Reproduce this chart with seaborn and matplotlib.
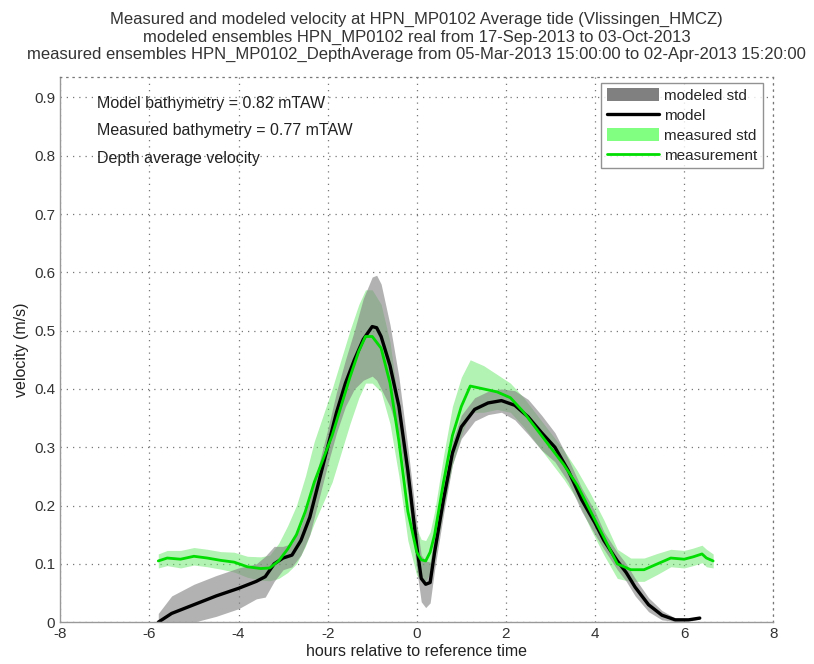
import numpy as np
import pandas as pd
import seaborn as sns
import matplotlib
matplotlib.use('Agg')
import matplotlib.pyplot as plt
from matplotlib.patches import Patch
from matplotlib.lines import Line2D

# model (black) and its std band
model_t = [-5.8, -5.5, -5.0, -4.5, -4.0, -3.6, -3.4, -3.2, -3.0, -2.8, -2.6, -2.4, -2.2, -2.0,
           -1.8, -1.6, -1.4, -1.2, -1.0, -0.9, -0.8, -0.6, -0.4, -0.2, 0.0, 0.1, 0.2, 0.3, 0.4,
           0.6, 0.8, 1.0, 1.3, 1.6, 1.9, 2.2, 2.5, 2.8, 3.1, 3.4, 3.7, 4.0, 4.2, 4.5, 4.7, 4.9,
           5.2, 5.5, 5.8, 6.1, 6.35]
model_v = [0.0, 0.015, 0.03, 0.045, 0.058, 0.07, 0.078, 0.10, 0.11, 0.115, 0.14, 0.18, 0.24, 0.30,
           0.36, 0.41, 0.45, 0.485, 0.507, 0.505, 0.49, 0.44, 0.37, 0.26, 0.13, 0.075, 0.065, 0.068, 0.12,
           0.21, 0.29, 0.335, 0.365, 0.376, 0.38, 0.372, 0.352, 0.325, 0.30, 0.26, 0.21, 0.17, 0.14, 0.105, 0.085, 0.06,
           0.03, 0.012, 0.004, 0.004, 0.007]
model_sd = [0.015, 0.03, 0.035, 0.035, 0.035, 0.03, 0.035, 0.03, 0.02, 0.02, 0.025, 0.03, 0.03, 0.03,
            0.035, 0.04, 0.05, 0.07, 0.085, 0.09, 0.09, 0.07, 0.05, 0.04, 0.04, 0.04, 0.04, 0.035, 0.03,
            0.025, 0.02, 0.02, 0.02, 0.02, 0.02, 0.025, 0.03, 0.03, 0.025, 0.02, 0.02, 0.02, 0.015, 0.015, 0.015, 0.015,
            0.012, 0.008, 0.003, 0.002, 0.002]

# measurement (green) and its std band
meas_t = [-5.8, -5.6, -5.3, -5.0, -4.7, -4.4, -4.1, -3.8, -3.5, -3.3, -3.1, -2.9, -2.7, -2.5, -2.3,
          -2.1, -1.9, -1.7, -1.5, -1.3, -1.15, -1.0, -0.8, -0.6, -0.4, -0.2, 0.0, 0.1, 0.2, 0.3, 0.4,
          0.6, 0.8, 1.0, 1.2, 1.5, 1.8, 2.1, 2.4, 2.7, 3.0, 3.3, 3.6, 3.9, 4.2, 4.5, 4.8, 5.1, 5.4,
          5.7, 6.0, 6.2, 6.4, 6.5, 6.65]
meas_v = [0.105, 0.11, 0.108, 0.113, 0.11, 0.106, 0.103, 0.095, 0.092, 0.093, 0.105, 0.125, 0.15, 0.19, 0.24,
          0.28, 0.32, 0.37, 0.42, 0.465, 0.49, 0.49, 0.47, 0.41, 0.31, 0.19, 0.12, 0.107, 0.105, 0.12, 0.15,
          0.24, 0.32, 0.37, 0.405, 0.40, 0.395, 0.385, 0.36, 0.33, 0.30, 0.27, 0.235, 0.19, 0.145, 0.10, 0.09, 0.09, 0.10,
          0.11, 0.108, 0.112, 0.117, 0.11, 0.105]
meas_sd = [0.012, 0.013, 0.015, 0.015, 0.015, 0.015, 0.017, 0.018, 0.02, 0.022, 0.03, 0.04, 0.05, 0.06, 0.07,
           0.075, 0.08, 0.08, 0.08, 0.08, 0.08, 0.08, 0.075, 0.07, 0.06, 0.05, 0.04, 0.035, 0.035, 0.035, 0.04,
           0.045, 0.05, 0.05, 0.045, 0.04, 0.03, 0.025, 0.025, 0.025, 0.025, 0.025, 0.025, 0.03, 0.03, 0.025, 0.02, 0.02, 0.018,
           0.015, 0.015, 0.015, 0.015, 0.015, 0.012]

x_ticks = [-8, -6, -4, -2, 0, 2, 4, 6, 8]
y_ticks = [0, 0.1, 0.2, 0.3, 0.4, 0.5, 0.6, 0.7, 0.8, 0.9]

title_lines = ['Measured and modeled velocity at HPN_MP0102 Average tide (Vlissingen_HMCZ)',
               'modeled ensembles HPN_MP0102 real from 17-Sep-2013 to 03-Oct-2013',
               'measured ensembles HPN_MP0102_DepthAverage from 05-Mar-2013 15:00:00 to 02-Apr-2013 15:20:00']
info_lines = ['Model bathymetry = 0.82 mTAW',
              'Measured bathymetry = 0.77 mTAW',
              'Depth average velocity']

model = pd.DataFrame({'t': model_t, 'v': model_v, 'sd': model_sd})
meas = pd.DataFrame({'t': meas_t, 'v': meas_v, 'sd': meas_sd})

sns.set_style('white')
plt.rcParams['font.family'] = ['Liberation Sans', 'DejaVu Sans']

fig = plt.figure(figsize=(8.14, 6.64), dpi=100)
ax = fig.add_axes([0.074, 0.063, 0.876, 0.821])

# bands: green first, gray on top (as in the original)
ax.fill_between(meas.t, meas.v - meas.sd, meas.v + meas.sd, color=(0.4, 0.9, 0.4), alpha=0.5, lw=0)
ax.fill_between(model.t, (model.v - model.sd).clip(lower=0), model.v + model.sd,
                color=(0.5, 0.5, 0.5), alpha=0.6, lw=0)

sns.lineplot(data=model, x='t', y='v', color='black', lw=2.4, sort=False, estimator=None, ax=ax)
sns.lineplot(data=meas, x='t', y='v', color='#00dd00', lw=2.0, sort=False, estimator=None, ax=ax)

ax.set_xlim(-8, 8)
ax.set_ylim(0, 0.935)
ax.set_xticks(x_ticks)
ax.set_yticks(y_ticks)
ax.set_xticklabels([str(v) for v in x_ticks])
ax.set_yticklabels(['0' if v == 0 else str(v) for v in y_ticks])
ax.tick_params(direction='in', length=4, color='#888888', labelsize=11, labelcolor='#333333')
ax.grid(True, linestyle=(0, (1, 4)), color='#777777', lw=0.9)

for s in ['left', 'bottom']:
    ax.spines[s].set_color('#999999')
    ax.spines[s].set_linewidth(1.0)
for s in ['top', 'right']:
    ax.spines[s].set_linestyle((0, (1, 4)))
    ax.spines[s].set_color('#777777')
    ax.spines[s].set_linewidth(0.9)

ax.set_xlabel('hours relative to reference time', fontsize=11.5, color='#222222', labelpad=2)
ax.set_ylabel('velocity (m/s)', fontsize=11.5, color='#222222', labelpad=4)
ax.set_title('\n'.join(title_lines), fontsize=12, color='#333333', linespacing=1.2, pad=13)

for i, line in enumerate(info_lines):
    ax.text(-7.18, 0.89 - i * 0.047, line, fontsize=11.5, color='#222222', va='center')

handles = [Patch(facecolor='#808080', edgecolor='none'),
           Line2D([], [], color='black', lw=2.4),
           Patch(facecolor='#80ff80', edgecolor='none'),
           Line2D([], [], color='#00dd00', lw=2.0)]
labels = ['modeled std', 'model', 'measured std', 'measurement']
leg = ax.legend(handles, labels, loc='upper right', bbox_to_anchor=(0.985, 0.989), borderaxespad=0,
                fontsize=11, frameon=True, fancybox=False, handlelength=3.4, handleheight=0.9,
                labelspacing=0.35, borderpad=0.35, handletextpad=0.35)
leg.get_frame().set_edgecolor('#777777')
leg.get_frame().set_linewidth(1.0)

fig.savefig('out.png', dpi=100)
